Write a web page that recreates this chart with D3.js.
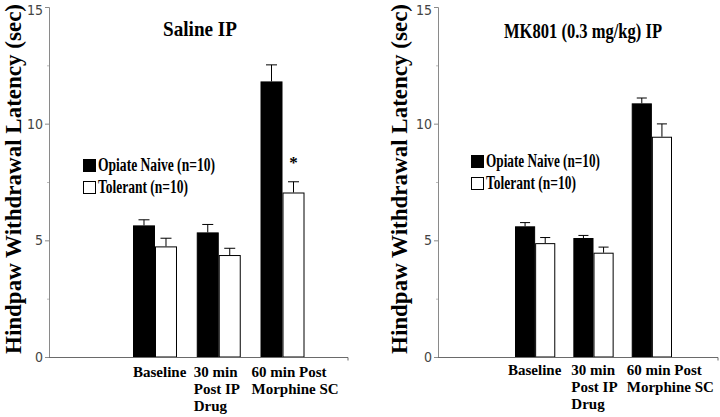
<!DOCTYPE html>
<html>
  <head>
    <meta charset="utf-8" />
    <title>Hindpaw withdrawal latency</title>
    <script src="https://d3js.org/d3.v7.min.js"></script>
    <style>
      body { margin: 0; background: #fff; }
      svg { display: block; }
      .serif { font-family: "Liberation Serif", "Times New Roman", Times, serif; font-weight: bold; fill: #000; }
      .tick text { font-family: "Liberation Sans Narrow", "DejaVu Sans Condensed", "Liberation Sans", sans-serif; font-size: 14px; fill: #444; }
    </style>
  </head>
  <body>
    <div id="chart"></div>

    <script type="text/javascript">
      // data
      var categories = ["Baseline", "30 min Post IP Drug", "60 min Post Morphine SC"];
      var categoryLines = [["Baseline"], ["30 min", "Post IP", "Drug"], ["60 min Post", "Morphine SC"]];
      var series = ["Opiate Naive (n=10)", "Tolerant (n=10)"];
      var yTicks = [0, 5, 10, 15];
      var yMinorTicks = [2.5, 7.5, 12.5];

      var salineNaive = [5.64, 5.34, 11.81];
      var salineNaiveErr = [0.24, 0.34, 0.71];
      var salineTolerant = [4.74, 4.37, 7.05];
      var salineTolerantErr = [0.35, 0.29, 0.46];
      var salineStars = [false, false, true]; // on the tolerant bar

      var mkNaive = [5.6, 5.1, 10.87];
      var mkNaiveErr = [0.16, 0.11, 0.23];
      var mkTolerant = [4.88, 4.47, 9.44];
      var mkTolerantErr = [0.24, 0.24, 0.55];
      var mkStars = [false, false, false];

      var width = 720;
      var height = 417;

      var svg = d3
        .select("#chart")
        .append("svg")
        .attr("width", width)
        .attr("height", height);

      var panels = [
        {
          title: "Saline IP",
          titleX: 200, titleY: 36, titleLen: 74,
          axisX: 49, axisRight: 348, bars: [133, 304.5],
          labelX: 21,
          legendX: 83, legendY: 159, legendTextLen: [117, 90],
          labelDx: [0, -3, -9], labelY: 377,
          naive: salineNaive, naiveErr: salineNaiveErr,
          tolerant: salineTolerant, tolerantErr: salineTolerantErr,
          stars: salineStars
        },
        {
          title: "MK801 (0.3 mg/kg) IP",
          titleX: 583, titleY: 38, titleLen: 158,
          axisX: 438, axisRight: 718, bars: [515, 672],
          labelX: 407,
          legendX: 471, legendY: 155, legendTextLen: [114, 90],
          labelDx: [-7, -2, -5], labelY: 375,
          naive: mkNaive, naiveErr: mkNaiveErr,
          tolerant: mkTolerant, tolerantErr: mkTolerantErr,
          stars: mkStars
        }
      ];

      var y = d3.scaleLinear().domain([0, 15]).range([357, 7]);

      panels.forEach(function (p) {
        var g = svg.append("g");

        var x0 = d3
          .scaleBand()
          .domain(categories)
          .range(p.bars)
          .paddingInner(0.31)
          .paddingOuter(0);

        var x1 = d3
          .scaleBand()
          .domain(series)
          .range([0, x0.bandwidth()]);

        var rows = [];
        categories.forEach(function (c, i) {
          rows.push({ cat: c, s: series[0], v: p.naive[i], e: p.naiveErr[i], star: false });
          rows.push({ cat: c, s: series[1], v: p.tolerant[i], e: p.tolerantErr[i], star: p.stars[i] });
        });

        // error bars (up only)
        var eb = g
          .selectAll(".err")
          .data(rows)
          .enter()
          .append("g")
          .attr("stroke", "#000")
          .attr("stroke-width", 1);
        eb.append("line")
          .attr("x1", function (d) { return x0(d.cat) + x1(d.s) + x1.bandwidth() / 2; })
          .attr("x2", function (d) { return x0(d.cat) + x1(d.s) + x1.bandwidth() / 2; })
          .attr("y1", function (d) { return y(d.v); })
          .attr("y2", function (d) { return y(d.v + d.e); });
        eb.append("line")
          .attr("x1", function (d) { return x0(d.cat) + x1(d.s) + x1.bandwidth() * 0.25; })
          .attr("x2", function (d) { return x0(d.cat) + x1(d.s) + x1.bandwidth() * 0.75; })
          .attr("y1", function (d) { return y(d.v + d.e); })
          .attr("y2", function (d) { return y(d.v + d.e); });

        g.selectAll(".bar")
          .data(rows)
          .enter()
          .append("rect")
          .attr("x", function (d) { return x0(d.cat) + x1(d.s) + 0.5; })
          .attr("y", function (d) { return y(d.v) + 0.5; })
          .attr("width", x1.bandwidth() - 1)
          .attr("height", function (d) { return y(0) - y(d.v) - 0.5; })
          .attr("fill", function (d) { return d.s === series[0] ? "#000" : "#fff"; })
          .attr("stroke", "#000")
          .attr("stroke-width", 1);

        g.selectAll(".star")
          .data(rows.filter(function (d) { return d.star; }))
          .enter()
          .append("text")
          .attr("class", "serif")
          .attr("x", function (d) { return x0(d.cat) + x1(d.s) + x1.bandwidth() / 2; })
          .attr("y", function (d) { return y(d.v + d.e) - 14; })
          .attr("text-anchor", "middle")
          .attr("font-size", 17)
          .text("*");

        // y axis
        var ax = g
          .append("g")
          .attr("transform", "translate(" + p.axisX + ",0)")
          .call(d3.axisLeft(y).tickValues(yTicks).tickSize(4).tickPadding(2).tickFormat(d3.format("d")));
        ax.select(".domain").attr("stroke", "#8a8a8a");
        ax.selectAll(".tick line").attr("stroke", "#8a8a8a");
        ax.selectAll(".tick text")
          .filter(function (d) { return d === 15; })
          .attr("dy", "0.55em");

        var axm = g
          .append("g")
          .attr("transform", "translate(" + p.axisX + ",0)")
          .call(d3.axisLeft(y).tickValues(yMinorTicks).tickSize(2).tickFormat(""));
        axm.select(".domain").remove();
        axm.selectAll(".tick line").attr("stroke", "#bbb");

        // x axis line
        g.append("path")
          .attr("d", "M" + p.axisX + "," + (y(0) + 0.5) + "H" + p.axisRight + "v3")
          .attr("fill", "none")
          .attr("stroke", "#6a6a6a")
          .attr("stroke-width", 1);

        // category labels
        categoryLines.forEach(function (lines, i) {
          var t = g
            .append("text")
            .attr("class", "serif")
            .attr("font-size", 15)
            .attr("x", x0(categories[i]) + p.labelDx[i])
            .attr("y", p.labelY);
          lines.forEach(function (line, k) {
            t.append("tspan")
              .attr("x", x0(categories[i]) + p.labelDx[i])
              .attr("dy", k === 0 ? 0 : 17)
              .text(line);
          });
        });

        // title
        g.append("text")
          .attr("class", "serif")
          .attr("x", p.titleX)
          .attr("y", p.titleY)
          .attr("text-anchor", "middle")
          .attr("font-size", 21)
          .attr("textLength", p.titleLen)
          .attr("lengthAdjust", "spacingAndGlyphs")
          .text(p.title);

        // y label
        g.append("text")
          .attr("class", "serif")
          .attr("transform", "translate(" + p.labelX + ",179) rotate(-90)")
          .attr("text-anchor", "middle")
          .attr("font-size", 23)
          .attr("textLength", 350)
          .attr("lengthAdjust", "spacingAndGlyphs")
          .text("Hindpaw Withdrawal Latency (sec)");

        // legend
        series.forEach(function (s, i) {
          var ly = p.legendY + i * 22;
          g.append("rect")
            .attr("x", p.legendX + 0.5)
            .attr("y", ly + 0.5)
            .attr("width", 12)
            .attr("height", 12)
            .attr("fill", i === 0 ? "#000" : "#fff")
            .attr("stroke", "#000");
          g.append("text")
            .attr("class", "serif")
            .attr("x", p.legendX + 15)
            .attr("y", ly + 12)
            .attr("font-size", 18)
            .attr("textLength", p.legendTextLen[i])
            .attr("lengthAdjust", "spacingAndGlyphs")
            .text(s);
        });
      });
    </script>
  </body>
</html>
